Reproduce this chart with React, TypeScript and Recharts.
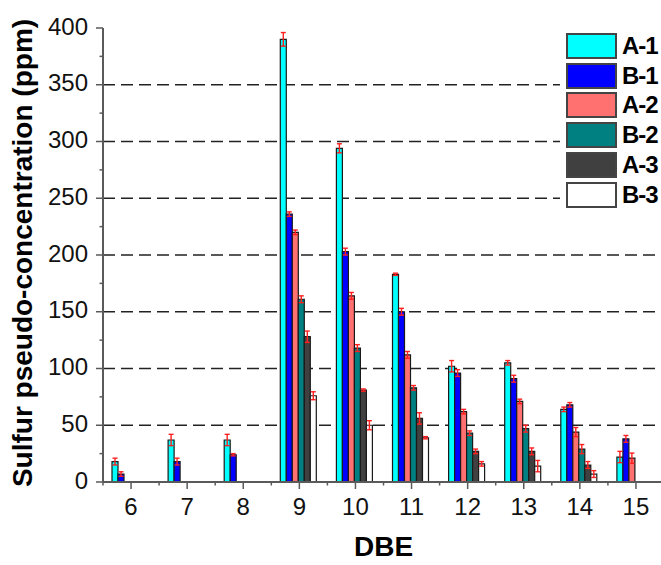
import { BarChart, Bar, XAxis, YAxis, CartesianGrid, ErrorBar, Label } from 'recharts';

// DBE categories
const dbeValues = ['6', '7', '8', '9', '10', '11', '12', '13', '14', '15'];

// sulfur pseudo-concentration (ppm) and error for each sample
const a1 = [18, 37, 37, 390, 294, 183, 102, 105, 64, 22];
const a1Err = [3, 5, 5, 6, 4, 1, 5, 2, 2, 5];
const b1 = [7, 18, 24, 236, 203, 150, 96, 91, 68, 38];
const b1Err = [2, 3, 1, 2, 3, 3, 3, 3, 2, 3];
const a2 = [null, null, null, 220, 164, 112, 62, 71, 44, 21];
const a2Err = [null, null, null, 2, 3, 3, 2, 2, 4, 4.5];
const b2 = [null, null, null, 161, 118, 83, 43, 47, 29, null];
const b2Err = [null, null, null, 3, 3, 2, 2, 3, 4, null];
const a3 = [null, null, null, 128, 81, 56, 27, 27, 15, null];
const a3Err = [null, null, null, 5, 1, 5, 2, 3, 3, null];
const b3 = [null, null, null, 76, 50, 39, 16, 14, 7, null];
const b3Err = [null, null, null, 3.5, 4, 1, 2, 5, 3, null];

const yTicks = [0, 25, 50, 75, 100, 125, 150, 175, 200, 225, 250, 275, 300, 325, 350, 375, 400];
const gridValues = [50, 100, 150, 200, 250, 300, 350];

const series = [
  { key: 'a1', name: 'A-1', color: '#00FFFF' },
  { key: 'b1', name: 'B-1', color: '#0000FF' },
  { key: 'a2', name: 'A-2', color: '#FF7070' },
  { key: 'b2', name: 'B-2', color: '#008080' },
  { key: 'a3', name: 'A-3', color: '#404040' },
  { key: 'b3', name: 'B-3', color: '#FFFFFF' },
];

const data = dbeValues.map((dbe, i) => ({
  dbe,
  a1: a1[i], a1Err: a1Err[i],
  b1: b1[i], b1Err: b1Err[i],
  a2: a2[i], a2Err: a2Err[i],
  b2: b2[i], b2Err: b2Err[i],
  a3: a3[i], a3Err: a3Err[i],
  b3: b3[i], b3Err: b3Err[i],
}));

const FONT = '"Liberation Sans", Arial, sans-serif';
const AXIS = '#5a5a5a';
const TICK_SIZE = 7;
const TICK_MARGIN = 8;

const YTick = (props: any) => {
  const { x, y, payload } = props;
  const axisX = x + TICK_SIZE + TICK_MARGIN;
  const major = payload.value % 50 === 0;
  return (
    <g>
      <line x1={axisX - (major ? 7 : 3.5)} x2={axisX} y1={y} y2={y} stroke={AXIS} strokeWidth={1.5} />
      {major && (
        <text x={axisX - 15} y={y + 6.5} textAnchor="end" fontSize={24} fontFamily={FONT} fill="#111">
          {payload.value}
        </text>
      )}
    </g>
  );
};

const XTick = (props: any) => {
  const { x, y, payload, index, visibleTicksCount } = props;
  const axisY = y - TICK_SIZE - TICK_MARGIN;
  const half = payload.offset || 0;
  return (
    <g>
      <line x1={x} x2={x} y1={axisY} y2={axisY + 7} stroke={AXIS} strokeWidth={1.5} />
      <line x1={x - half} x2={x - half} y1={axisY} y2={axisY + 3.5} stroke={AXIS} strokeWidth={1.5} />
      {index === visibleTicksCount - 1 && (
        <line x1={x + half} x2={x + half} y1={axisY} y2={axisY + 3.5} stroke={AXIS} strokeWidth={1.5} />
      )}
      <text x={x} y={axisY + 33} textAnchor="middle" fontSize={24} fontFamily={FONT} fill="#111">
        {payload.value}
      </text>
    </g>
  );
};

const App = () => {
  return (
    <div
      style={{
        position: 'absolute',
        left: 0,
        top: 0,
        width: 661,
        height: 565,
        overflow: 'hidden',
        background: '#fff',
        fontFamily: FONT,
      }}
    >
      <BarChart
        width={664}
        height={565}
        data={data}
        margin={{ top: 28, right: 0, bottom: 0, left: 0 }}
        barCategoryGap={9}
        barGap={0}
      >
        <CartesianGrid
          vertical={false}
          horizontalValues={gridValues}
          stroke="#222"
          strokeWidth={1.5}
          strokeDasharray="12 6"
        />
        <XAxis
          dataKey="dbe"
          height={83}
          interval={0}
          tickSize={TICK_SIZE}
          tickMargin={TICK_MARGIN}
          tickLine={false}
          tick={<XTick />}
          axisLine={{ stroke: AXIS, strokeWidth: 2 }}
        >
          <Label
            content={(p: any) => {
              const vb = p.viewBox;
              return (
                <text
                  x={vb.x + vb.width / 2}
                  y={556}
                  textAnchor="middle"
                  fontSize={28}
                  fontWeight="bold"
                  fontFamily={FONT}
                  fill="#000"
                >
                  DBE
                </text>
              );
            }}
          />
        </XAxis>
        <YAxis
          width={103}
          domain={[0, 400]}
          ticks={yTicks}
          interval={0}
          tickSize={TICK_SIZE}
          tickMargin={TICK_MARGIN}
          tickLine={false}
          tick={<YTick />}
          axisLine={{ stroke: AXIS, strokeWidth: 2 }}
        >
          <Label
            content={(p: any) => {
              const vb = p.viewBox;
              const cx = 32;
              const cy = vb.y + vb.height / 2 - 2;
              return (
                <text
                  x={cx}
                  y={cy}
                  transform={`rotate(-90 ${cx} ${cy})`}
                  textAnchor="middle"
                  fontSize={28}
                  fontWeight="bold"
                  fontFamily={FONT}
                  fill="#000"
                >
                  Sulfur pseudo-concentration (ppm)
                </text>
              );
            }}
          />
        </YAxis>
        {series.map((s) => (
          <Bar
            key={s.key}
            dataKey={s.key}
            name={s.name}
            fill={s.color}
            stroke="#1a1a1a"
            strokeWidth={1.2}
            isAnimationActive={false}
          >
            <ErrorBar
              dataKey={`${s.key}Err`}
              width={2.5}
              strokeWidth={1.4}
              stroke="#FF2020"
              direction="y"
              isAnimationActive={false}
            />
          </Bar>
        ))}
      </BarChart>

      {/* legend */}
      <div
        style={{
          position: 'absolute',
          left: 560,
          top: 28,
          width: 101,
          height: 184,
          background: '#fff',
        }}
      >
        {series.map((s, i) => (
          <div
            key={s.key}
            style={{
              position: 'absolute',
              left: 6,
              top: 4.7 + i * 29.8,
              height: 26,
              display: 'flex',
              alignItems: 'center',
            }}
          >
            <div
              style={{
                width: 51,
                height: 26,
                boxSizing: 'border-box',
                border: '2px solid #444',
                background: s.color,
              }}
            />
            <span
              style={{
                marginLeft: 5,
                fontWeight: 'bold',
                fontSize: 24,
                color: '#000',
                letterSpacing: -1,
                whiteSpace: 'nowrap',
              }}
            >
              {s.name}
            </span>
          </div>
        ))}
      </div>
    </div>
  );
};

export default App;
